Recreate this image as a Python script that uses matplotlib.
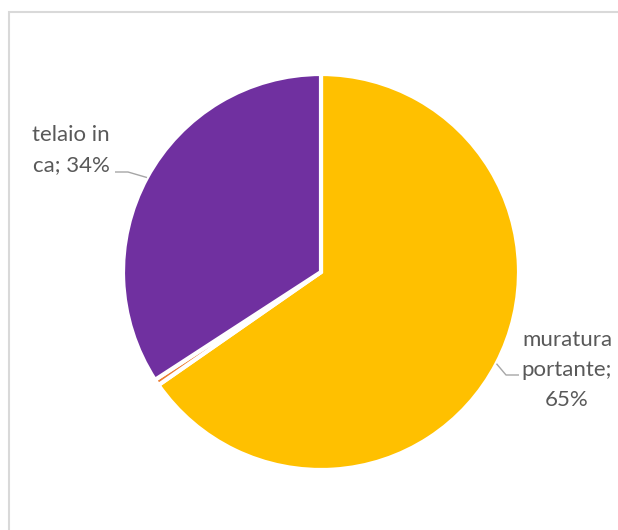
import numpy as np
import matplotlib.pyplot as plt
from matplotlib.patches import Rectangle

# Wall types share
categories = ["muratura portante", "altro", "telaio in ca"]
values = [65, 0.5, 34]
labels = ["muratura\nportante;\n65%", "", "telaio in\nca; 34%"]
colors = ["#FFC000", "#ED7D31", "#7030A0"]

plt.rcParams["font.family"] = ["Lato", "DejaVu Sans"]

W, H = 618, 530
fig = plt.figure(figsize=(W / 100, H / 100), dpi=100)

# chart area border (runs off right/bottom)
fig.patches.append(Rectangle((8.5 / W, -0.1), 1.2, 1 - 11.5 / H + 0.1,
                             transform=fig.transFigure, fill=False,
                             edgecolor="#D9D9D9", linewidth=1.5))

cx, cy, r = 321, 272, 198
ax = fig.add_axes([(cx - r) / W, (H - cy - r) / H, 2 * r / W, 2 * r / H])
wedges, _ = ax.pie(values, colors=colors, startangle=90, counterclock=False,
                   radius=1, wedgeprops=dict(edgecolor="white", linewidth=3))
ax.set_xlim(-1, 1)
ax.set_ylim(-1, 1)
ax.set_aspect("equal")
ax.axis("off")


def px(x, y):
    return ((x - cx) / r, (cy - y) / r)


line_kw = dict(color="#A6A6A6", linewidth=1, solid_capstyle="butt")
text_kw = dict(ha="center", va="center", fontsize=16, color="#595959",
               linespacing=1.6)

# telaio in ca
w = wedges[2]
mid = np.deg2rad((w.theta1 + w.theta2) / 2)
ex, ey = np.cos(mid), np.sin(mid)
ax.plot([px(115, 0)[0], px(128, 0)[0], ex],
        [px(0, 172)[1], px(0, 172)[1], ey], clip_on=False, **line_kw)
ax.text(*px(71, 150), labels[2], **text_kw)

# muratura portante
w = wedges[0]
mid = np.deg2rad((w.theta1 + w.theta2) / 2)
ex, ey = np.cos(mid), np.sin(mid)
ax.plot([ex, px(506, 0)[0], px(519, 0)[0]],
        [ey, px(0, 375)[1], px(0, 375)[1]], clip_on=False, **line_kw)
ax.text(*px(567, 370), labels[0], **text_kw)

fig.savefig("out.png", dpi=100, facecolor="white")
